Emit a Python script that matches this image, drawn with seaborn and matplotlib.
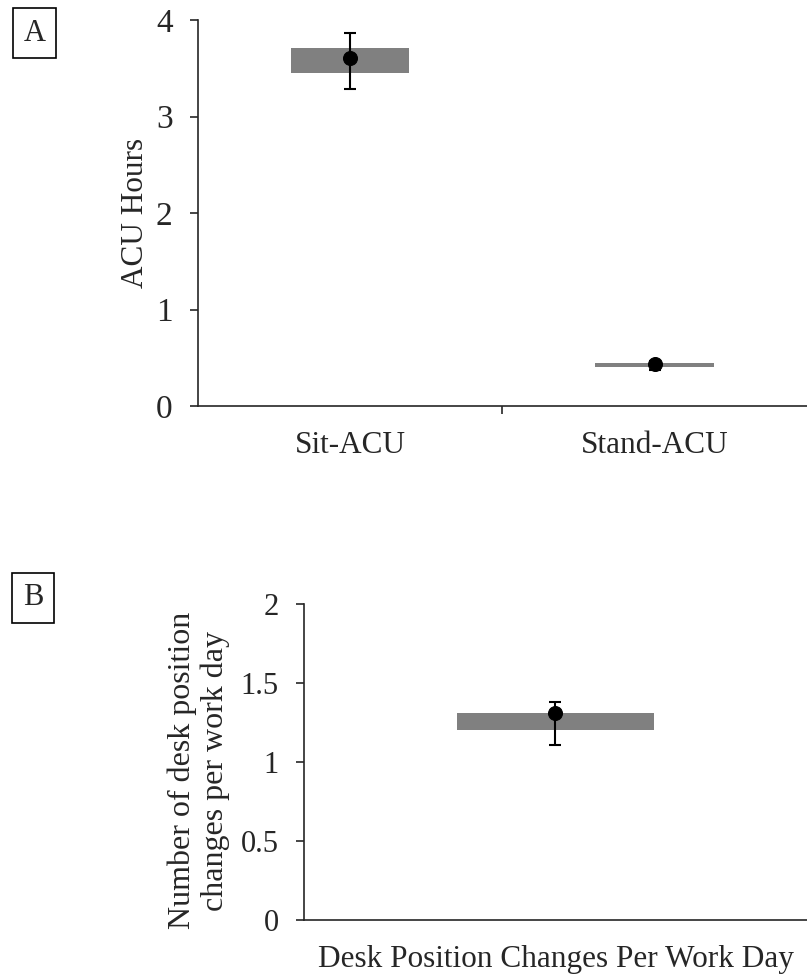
import numpy as np
import matplotlib.pyplot as plt
import seaborn as sns

# panel A
acu_cats = ["Sit-ACU", "Stand-ACU"]
acu_low = [3.45, 0.40]
acu_high = [3.71, 0.45]
acu_mean = [3.61, 0.44]
acu_err_low = [3.29, 0.37]
acu_err_high = [3.87, 0.47]

# panel B
desk_cats = ["Desk Position Changes Per Work Day"]
desk_low = [1.20]
desk_high = [1.31]
desk_mean = [1.31]
desk_err_low = [1.11]
desk_err_high = [1.38]

sns.set_style("ticks")
plt.rcParams["font.family"] = ["Liberation Serif", "DejaVu Serif"]
plt.rcParams["font.size"] = 16

fig = plt.figure(figsize=(8.07, 9.77), dpi=100)
ax_a = fig.add_axes([0.245, 0.5844, 0.755, 0.3951])
ax_b = fig.add_axes([0.3767, 0.0583, 0.6233, 0.3235])


def draw_panel(ax, cats, low, high, mean, err_low, err_high, ylim, yticks, ticklabels,
               tick_fs, cat_fs):
    x = np.arange(len(cats))
    low = np.array(low)
    high = np.array(high)
    mean = np.array(mean)
    ax.bar(x, high - low, bottom=low, width=0.39, color="#808080", edgecolor="none", zorder=1)
    yerr = np.vstack([mean - np.array(err_low), np.array(err_high) - mean])
    ax.errorbar(x, mean, yerr=yerr, fmt="none", ecolor="black", elinewidth=1.5,
                capsize=4.5, capthick=1.5, zorder=2)
    sns.scatterplot(x=x, y=mean, color="black", s=100, edgecolor="black", ax=ax, zorder=3)
    ax.set_xlim(-0.5, len(cats) - 0.5)
    ax.set_ylim(*ylim)
    ax.set_yticks(yticks)
    ax.set_yticklabels(ticklabels, fontsize=tick_fs)
    ax.set_xticks(x)
    ax.set_xticklabels(cats, fontsize=cat_fs)
    ax.tick_params(axis="x", length=0, pad=18)
    ax.tick_params(axis="y", length=6, width=1.2, direction="out", pad=12)
    if len(cats) > 1:
        ax.set_xticks(x[:-1] + 0.5, minor=True)
        ax.tick_params(axis="x", which="minor", length=6, width=1.2, direction="out")
    sns.despine(ax=ax)
    ax.spines["left"].set_linewidth(1.2)
    ax.spines["bottom"].set_linewidth(1.2)


draw_panel(ax_a, acu_cats, acu_low, acu_high, acu_mean, acu_err_low, acu_err_high,
           (0, 4), [0, 1, 2, 3, 4], ["0", "1", "2", "3", "4"], 24, 22.5)
ax_a.set_ylabel("ACU Hours", fontsize=22.5)
ax_a.yaxis.set_label_coords(-0.079, 0.5)

draw_panel(ax_b, desk_cats, desk_low, desk_high, desk_mean, desk_err_low, desk_err_high,
           (0, 2), [0, 0.5, 1, 1.5, 2], ["0", "0.5", "1", "1.5", "2"], 22, 22.5)
ax_b.set_ylabel("Number of desk position\nchanges per work day", fontsize=23,
                linespacing=1.15)
ax_b.yaxis.set_label_coords(-0.147, 0.472)

box = dict(boxstyle="square,pad=0.35", facecolor="white", edgecolor="black", linewidth=1.2)
fig.text(0.043, 0.966, "A", fontsize=22, ha="center", va="center", bbox=box)
fig.text(0.041, 0.388, "B", fontsize=22, ha="center", va="center", bbox=box)

fig.savefig("out.png", dpi=100)
